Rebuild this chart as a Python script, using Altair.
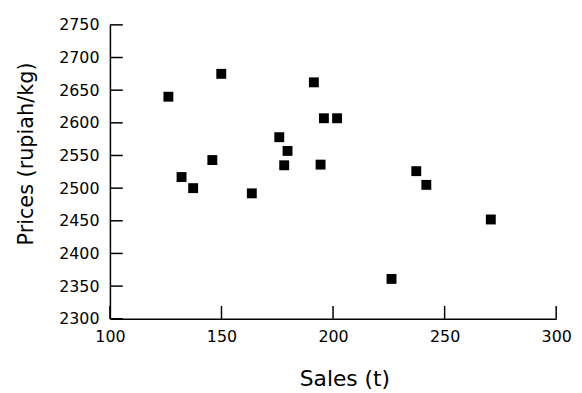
import altair as alt
import pandas as pd

sales = [126.2, 149.9, 132.1, 137.3, 145.9, 163.6, 175.9, 179.6, 178.1,
         191.4, 195.9, 201.8, 194.4, 237.3, 241.8, 270.7, 226.2]
prices = [2640, 2675, 2517, 2500, 2543, 2492, 2578, 2557, 2535,
          2662, 2607, 2607, 2536, 2526, 2505, 2452, 2361]

x_ticks = [100, 150, 200, 250, 300]
y_ticks = [2300, 2350, 2400, 2450, 2500, 2550, 2600, 2650, 2700, 2750]

df = pd.DataFrame({"sales": sales, "prices": prices})
xt = pd.DataFrame({"v": x_ticks})
yt = pd.DataFrame({"v": y_ticks})

FONT = "DejaVu Sans"
W, H = 451, 297

xscale = alt.Scale(domain=[100, 300], nice=False, zero=False)
yscale = alt.Scale(domain=[2300, 2750], nice=False, zero=False)

xaxis = alt.Axis(values=x_ticks, format="d", ticks=False, grid=False,
                 domain=True, domainColor="black", domainWidth=1.5,
                 labelOverlap=False, labelFlush=False,
                 labelFont=FONT, labelFontSize=16, labelColor="black",
                 labelPadding=10, title="Sales (t)", titleFont=FONT,
                 titleFontSize=22, titleFontWeight="normal",
                 titleColor="black", titleX=237, titleY=67,
                 titleAlign="center", titleBaseline="alphabetic")
yaxis = alt.Axis(values=y_ticks, format="d", ticks=False, grid=False,
                 domain=True, domainColor="black", domainWidth=1.5,
                 labelOverlap=False, labelFlush=False,
                 labelFont=FONT, labelFontSize=16, labelColor="black",
                 labelPadding=11, title="Prices (rupiah/kg)",
                 titleFont=FONT, titleFontSize=21,
                 titleFontWeight="normal", titleColor="black",
                 titleX=-78, titleY=130, titleAlign="center",
                 titleBaseline="alphabetic", titleAngle=-90)

points = alt.Chart(df).mark_square(size=100, color="black", opacity=1).encode(
    x=alt.X("sales:Q", scale=xscale, axis=xaxis),
    y=alt.Y("prices:Q", scale=yscale, axis=yaxis),
)

ytick_rules = alt.Chart(yt).mark_rule(color="black", strokeWidth=1.5).encode(
    y=alt.Y("v:Q", scale=yscale, axis=yaxis),
    x=alt.value(0), x2=alt.value(13),
)
xtick_rules = alt.Chart(xt).mark_rule(color="black", strokeWidth=1.5).encode(
    x=alt.X("v:Q", scale=xscale, axis=xaxis),
    y=alt.value(H), y2=alt.value(H - 13),
)

chart = alt.layer(points, ytick_rules, xtick_rules).properties(
    width=W, height=H,
    autosize=alt.AutoSizeParams(type="none"),
    padding={"left": 103, "top": 15, "right": 18, "bottom": 74},
    background="white",
).configure_view(stroke=None)

chart.save("out.html", embed_options={"renderer": "svg", "actions": False})
